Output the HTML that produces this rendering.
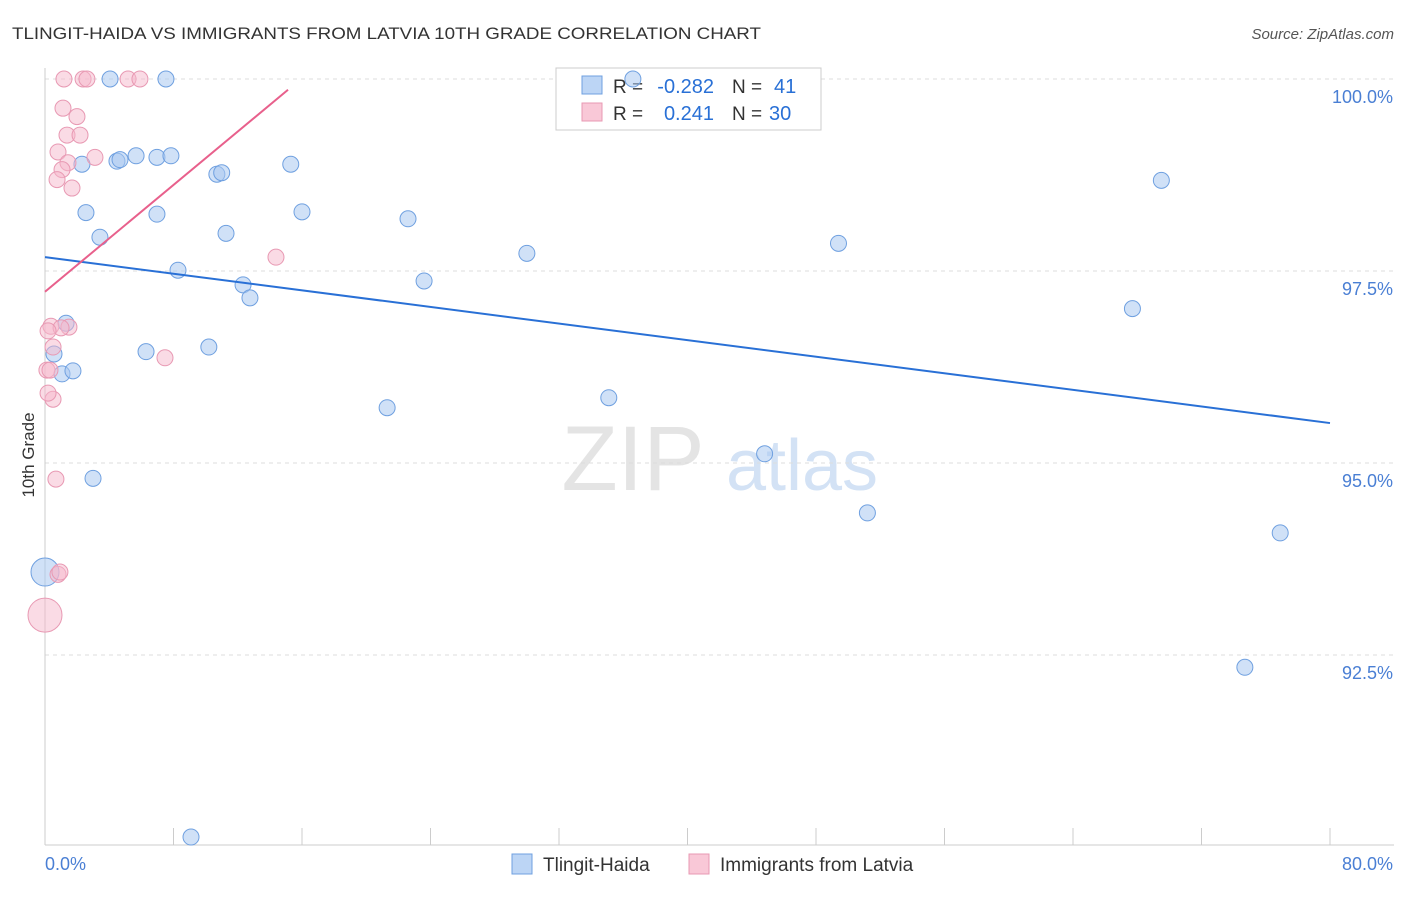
<!DOCTYPE html>
<html><head><meta charset="utf-8"><style>
body{margin:0;background:#fff;font-family:"Liberation Sans",sans-serif;}
svg text{font-family:"Liberation Sans",sans-serif;}
</style></head><body>
<svg id="chart" width="1406" height="892">
<text x="12" y="39" font-size="17" fill="#333" textLength="749" lengthAdjust="spacingAndGlyphs">TLINGIT-HAIDA VS IMMIGRANTS FROM LATVIA 10TH GRADE CORRELATION CHART</text>
<text x="1394" y="39" font-size="15" fill="#555" text-anchor="end" font-style="italic">Source: ZipAtlas.com</text>
<text x="633" y="490" font-size="92" fill="#e4e4e4" text-anchor="middle" font-family="Liberation Serif">ZIP</text>
<text x="802" y="490" font-size="72" fill="#d3e2f5" text-anchor="middle">atlas</text>
<g id="grid"></g>
<g id="axes"></g>
<g>
<rect x="556" y="68" width="265" height="62" fill="#fff" stroke="#ccc"/>
<rect x="582" y="76" width="20" height="18" fill="#bcd5f5" stroke="#6fa0e0"/>
<rect x="582" y="103" width="20" height="18" fill="#f9c8d7" stroke="#e899b3"/>
<text x="613" y="93" font-size="19" fill="#333">R =</text>
<text x="714" y="93" font-size="20" fill="#2970d6" text-anchor="end">-0.282</text>
<text x="732" y="93" font-size="19" fill="#333">N =</text>
<text x="774" y="93" font-size="20" fill="#2970d6">41</text>
<text x="613" y="120" font-size="19" fill="#333">R =</text>
<text x="714" y="120" font-size="20" fill="#2970d6" text-anchor="end">0.241</text>
<text x="732" y="120" font-size="19" fill="#333">N =</text>
<text x="769" y="120" font-size="20" fill="#2970d6">30</text>
</g>
<g id="marks"></g>
<text x="34" y="455" font-size="17" fill="#333" text-anchor="middle" transform="rotate(-90 34 455)">10th Grade</text>
<g>
<rect x="512" y="854" width="20" height="20" fill="#bcd5f5" stroke="#6fa0e0"/>
<text x="543" y="871" font-size="19" fill="#333">Tlingit-Haida</text>
<rect x="689" y="854" width="20" height="20" fill="#f9c8d7" stroke="#e899b3"/>
<text x="720" y="871" font-size="19" fill="#333">Immigrants from Latvia</text>
</g>
</svg>
<script>
const blueX=[4.05,7.53,36.6,2.30,4.48,4.67,5.67,6.97,7.84,10.7,11.0,15.3,2.55,6.97,16.0,22.6,3.42,11.27,30.0,49.4,69.5,8.28,12.33,12.76,23.6,67.7,1.31,0.56,6.29,10.2,1.06,1.74,21.3,35.1,44.8,2.99,51.2,76.9,0,74.7,9.09];
const blueY=[100,100,100,98.89,98.93,98.95,99.00,98.98,99.00,98.76,98.78,98.89,98.26,98.24,98.27,98.18,97.94,97.99,97.73,97.86,98.68,97.51,97.32,97.15,97.37,97.01,96.82,96.42,96.45,96.51,96.16,96.20,95.72,95.85,95.12,94.80,94.35,94.09,93.58,92.34,90.13];
const pinkX=[1.18,2.37,2.61,5.17,5.91,1.12,1.99,1.37,2.18,0.81,3.11,1.43,1.06,0.75,1.68,14.38,0.37,1.49,1.00,0.50,7.47,0.12,0.31,0.50,0.19,0.68,0.81,0.93,0,0.19];
const pinkY=[100,100,100,100,100,99.62,99.51,99.27,99.27,99.05,98.98,98.91,98.82,98.69,98.58,97.68,96.78,96.77,96.76,96.51,96.37,96.21,96.21,95.83,95.91,94.79,93.55,93.58,93.02,96.72];
const blueTrend=[[0,97.68],[80,95.52]];
const pinkTrend=[[0,97.23],[15.13,99.86]];
const yTicks=[100,97.5,95,92.5];
const yTickLabels=["100.0%","97.5%","95.0%","92.5%"];
const xTicks=[0,8,16,24,32,40,48,56,64,72,80];
const X=v=>45+v*16.0625, Y=v=>79+(100-v)*76.8;
const NS="http://www.w3.org/2000/svg";
function mk(t,a,p){const e=document.createElementNS(NS,t);for(const k in a)e.setAttribute(k,a[k]);p.appendChild(e);return e;}
const grid=document.getElementById('grid'),axes=document.getElementById('axes'),marks=document.getElementById('marks');
yTicks.forEach((t,i)=>{
 const l=mk('line',{x1:45,x2:1394,y1:Y(t),y2:Y(t),stroke:'#ddd','stroke-dasharray':'4,4'},grid);
 
 
 const tx=mk('text',{x:1393,y:Y(t)+24,'font-size':18,fill:'#4a7fd4','text-anchor':'end'},axes);
 tx.textContent=yTickLabels[i];
 
 
});
const ax=mk('line',{x1:45,x2:1394,y1:845,y2:845,stroke:'#ccc'},axes);


const ay=mk('line',{x1:45,x2:45,y1:68,y2:845,stroke:'#ccc'},axes);


xTicks.forEach(t=>{
 const l=mk('line',{x1:X(t),x2:X(t),y1:828,y2:845,stroke:'#ccc'},axes);
 
 
});
const x0=mk('text',{x:45,y:870,'font-size':18,fill:'#4a7fd4'},axes);x0.textContent='0.0%';


const x1=mk('text',{x:1393,y:870,'font-size':18,fill:'#4a7fd4','text-anchor':'end'},axes);x1.textContent='80.0%';


blueX.forEach((v,i)=>{
 const c=mk('circle',{cx:X(v),cy:Y(blueY[i]),r:v===0?14:8,fill:'rgba(169,200,240,0.55)',stroke:'#6fa0e0','stroke-width':1},marks);
 
 
});
pinkX.forEach((v,i)=>{
 const c=mk('circle',{cx:X(v),cy:Y(pinkY[i]),r:v===0?17:8,fill:'rgba(245,184,203,0.5)',stroke:'#e899b3','stroke-width':1},marks);
 
 
});
const bl=mk('line',{x1:X(blueTrend[0][0]),y1:Y(blueTrend[0][1]),x2:X(blueTrend[1][0]),y2:Y(blueTrend[1][1]),stroke:'#2970d6','stroke-width':2},marks);


const pl=mk('line',{x1:X(pinkTrend[0][0]),y1:Y(pinkTrend[0][1]),x2:X(pinkTrend[1][0]),y2:Y(pinkTrend[1][1]),stroke:'#e8608c','stroke-width':2},marks);


</script>
</body></html>
